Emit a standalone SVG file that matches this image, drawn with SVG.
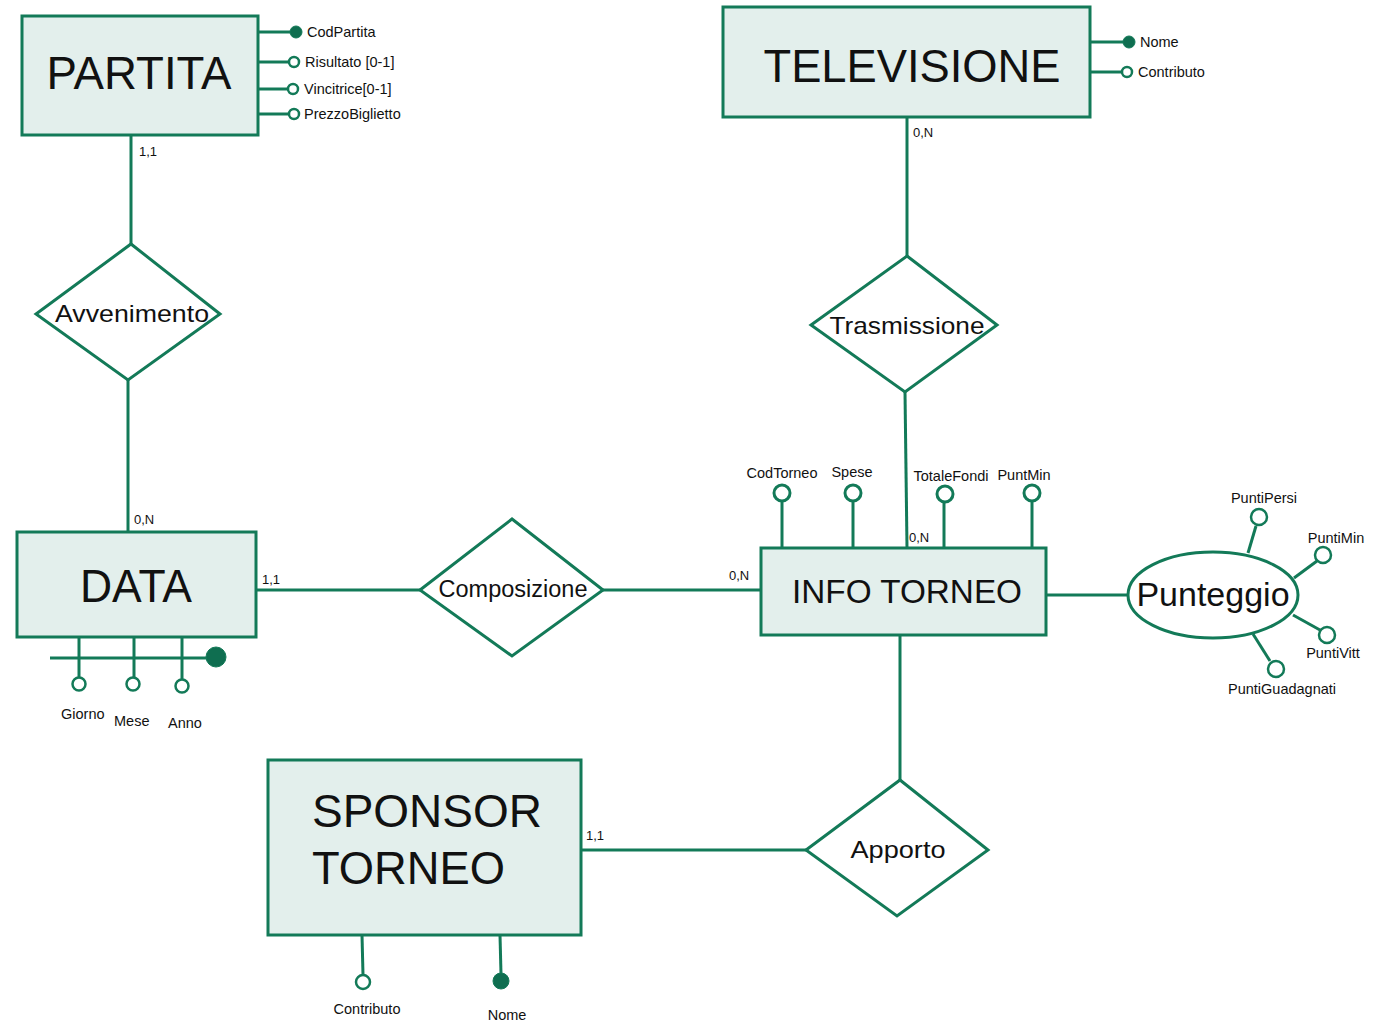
<svg xmlns="http://www.w3.org/2000/svg" width="1394" height="1027" viewBox="0 0 1394 1027">
<style>
.ent{fill:#e3efec;stroke:#137a58;stroke-width:3}
.rel{fill:#ffffff;stroke:#137a58;stroke-width:3}
.ln{stroke:#137a58;stroke-width:3;fill:none}
.oc{fill:#ffffff;stroke:#137a58;stroke-width:2.5}
.oc3{fill:#ffffff;stroke:#137a58;stroke-width:3}
.fc{fill:#0f6e50;stroke:#137a58;stroke-width:1}
text{font-family:"Liberation Sans",Arial,sans-serif;fill:#111}
.big{font-size:47px;text-anchor:middle}
.mid{font-size:24px;text-anchor:middle}
.att{font-size:14.5px}
.card{font-size:13px}
</style>
<rect width="1394" height="1027" fill="#ffffff"/>
<g id="connectors">
<line class="ln" x1="131" y1="135" x2="131" y2="244"/>
<line class="ln" x1="128" y1="380" x2="128" y2="532"/>
<line class="ln" x1="256" y1="590" x2="420" y2="590"/>
<line class="ln" x1="603" y1="590" x2="761" y2="590"/>
<line class="ln" x1="907" y1="117" x2="907" y2="256"/>
<line class="ln" x1="905" y1="392" x2="907" y2="548"/>
<line class="ln" x1="900" y1="635" x2="900" y2="780"/>
<line class="ln" x1="581" y1="850" x2="806" y2="850"/>
<line class="ln" x1="1046" y1="595" x2="1128" y2="595"/>
<text class="card" x="139" y="156">1,1</text>
<text class="card" x="134" y="524">0,N</text>
<text class="card" x="262" y="584">1,1</text>
<text class="card" x="729" y="580">0,N</text>
<text class="card" x="913" y="137">0,N</text>
<text class="card" x="909" y="542">0,N</text>
<text class="card" x="586" y="840">1,1</text>
</g>
<g id="partita">
<rect class="ent" x="22" y="16" width="236" height="119"/>
<text class="big" x="139" y="89" textLength="185" lengthAdjust="spacingAndGlyphs">PARTITA</text>
<line class="ln" x1="258" y1="32" x2="291" y2="32"/>
<circle class="fc" cx="296" cy="32" r="6"/>
<text class="att" x="307" y="37">CodPartita</text>
<line class="ln" x1="258" y1="62" x2="289" y2="62"/>
<circle class="oc" cx="294" cy="62" r="5"/>
<text class="att" x="305" y="67">Risultato [0-1]</text>
<line class="ln" x1="258" y1="89" x2="288" y2="89"/>
<circle class="oc" cx="293" cy="89" r="5"/>
<text class="att" x="304" y="94">Vincitrice[0-1]</text>
<line class="ln" x1="258" y1="114" x2="289" y2="114"/>
<circle class="oc" cx="294" cy="114" r="5"/>
<text class="att" x="304" y="119">PrezzoBiglietto</text>
</g>
<g id="avvenimento">
<polygon class="rel" points="131,244 220,314 128,380 36,314"/>
<text class="mid" x="132" y="322" textLength="154" lengthAdjust="spacingAndGlyphs">Avvenimento</text>
</g>
<g id="data">
<rect class="ent" x="17" y="532" width="239" height="105"/>
<text class="big" x="136" y="602" textLength="112" lengthAdjust="spacingAndGlyphs">DATA</text>
<line class="ln" x1="50" y1="658" x2="212" y2="658"/>
<circle class="fc" cx="216" cy="657" r="10"/>
<line class="ln" x1="79" y1="637" x2="79" y2="678"/>
<circle class="oc" cx="79" cy="684" r="6.5"/>
<line class="ln" x1="134" y1="637" x2="134" y2="678"/>
<circle class="oc" cx="133" cy="684" r="6.5"/>
<line class="ln" x1="182" y1="637" x2="182" y2="680"/>
<circle class="oc" cx="182" cy="686" r="6.5"/>
<text class="att" x="61" y="719">Giorno</text>
<text class="att" x="114" y="726">Mese</text>
<text class="att" x="168" y="728">Anno</text>
</g>
<g id="composizione">
<polygon class="rel" points="512,519 603,590 512,656 420,590"/>
<text class="mid" x="513" y="597" style="font-size:23px" textLength="149" lengthAdjust="spacingAndGlyphs">Composizione</text>
</g>
<g id="televisione">
<rect class="ent" x="723" y="7" width="367" height="110"/>
<text class="big" x="912" y="82" textLength="297" lengthAdjust="spacingAndGlyphs">TELEVISIONE</text>
<line class="ln" x1="1090" y1="42" x2="1124" y2="42"/>
<circle class="fc" cx="1129" cy="42" r="6"/>
<text class="att" x="1140" y="47">Nome</text>
<line class="ln" x1="1090" y1="72" x2="1122" y2="72"/>
<circle class="oc" cx="1127" cy="72" r="5"/>
<text class="att" x="1138" y="77">Contributo</text>
</g>
<g id="trasmissione">
<polygon class="rel" points="907,256 997,325 905,392 811,325"/>
<text class="mid" x="907" y="334" textLength="155" lengthAdjust="spacingAndGlyphs">Trasmissione</text>
</g>
<g id="info-torneo">
<rect class="ent" x="761" y="548" width="285" height="87"/>
<text class="big" x="907" y="603" style="font-size:34px" textLength="230" lengthAdjust="spacingAndGlyphs">INFO TORNEO</text>
<line class="ln" x1="782" y1="501" x2="782" y2="548"/>
<circle class="oc3" cx="782" cy="493" r="8"/>
<text class="att" x="782" y="478" text-anchor="middle">CodTorneo</text>
<line class="ln" x1="853" y1="501" x2="853" y2="548"/>
<circle class="oc3" cx="853" cy="493" r="8"/>
<text class="att" x="852" y="477" text-anchor="middle">Spese</text>
<line class="ln" x1="944" y1="502" x2="944" y2="548"/>
<circle class="oc3" cx="945" cy="494" r="8"/>
<text class="att" x="951" y="481" text-anchor="middle">TotaleFondi</text>
<line class="ln" x1="1032" y1="501" x2="1032" y2="548"/>
<circle class="oc3" cx="1032" cy="493" r="8"/>
<text class="att" x="1024" y="480" text-anchor="middle">PuntMin</text>
</g>
<g id="punteggio">
<line class="ln" x1="1248" y1="553" x2="1256" y2="526"/>
<circle class="oc" cx="1259" cy="517" r="8"/>
<text class="att" x="1264" y="503" text-anchor="middle">PuntiPersi</text>
<line class="ln" x1="1294" y1="578" x2="1317" y2="561"/>
<circle class="oc" cx="1323" cy="555" r="8"/>
<text class="att" x="1336" y="543" text-anchor="middle">PuntiMin</text>
<line class="ln" x1="1293" y1="615" x2="1320" y2="630"/>
<circle class="oc" cx="1327" cy="635" r="8"/>
<text class="att" x="1333" y="658" text-anchor="middle">PuntiVitt</text>
<line class="ln" x1="1253" y1="634" x2="1270" y2="661"/>
<circle class="oc" cx="1276" cy="669" r="8"/>
<text class="att" x="1282" y="694" text-anchor="middle">PuntiGuadagnati</text>
<ellipse class="rel" cx="1213" cy="595" rx="85" ry="43"/>
<text class="mid" x="1213" y="606" style="font-size:34px">Punteggio</text>
</g>
<g id="apporto">
<polygon class="rel" points="900,780 988,850 897,916 806,850"/>
<text class="mid" x="898" y="858" textLength="95" lengthAdjust="spacingAndGlyphs">Apporto</text>
</g>
<g id="sponsor-torneo">
<rect class="ent" x="268" y="760" width="313" height="175"/>
<text x="312" y="827" font-size="47" textLength="230" lengthAdjust="spacingAndGlyphs">SPONSOR</text>
<text x="312" y="884" font-size="47" textLength="193" lengthAdjust="spacingAndGlyphs">TORNEO</text>
<line class="ln" x1="362" y1="935" x2="363" y2="975"/>
<circle class="oc" cx="363" cy="982" r="7"/>
<text class="att" x="367" y="1014" text-anchor="middle">Contributo</text>
<line class="ln" x1="500" y1="935" x2="501" y2="974"/>
<circle class="fc" cx="501" cy="981" r="8"/>
<text class="att" x="507" y="1020" text-anchor="middle">Nome</text>
</g>
</svg>
